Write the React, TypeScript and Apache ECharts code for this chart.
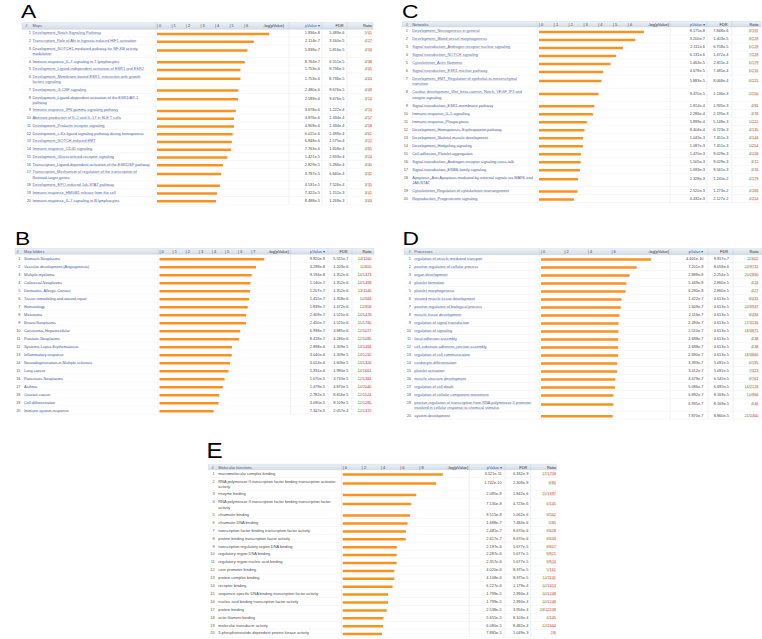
import React, { useEffect, useRef } from 'react';
import * as echarts from 'echarts';

// ---------------- Panel A: Maps ----------------
const mapsLabels = [
  'Development_Notch Signaling Pathway',
  'Transcription_Role of Akt in hypoxia induced HIF1 activation',
  'Development_NOTCH1-mediated pathway for NF-KB activity\nmodulation',
  'Immune response_IL-7 signaling in T lymphocytes',
  'Development_Ligand-independent activation of ESR1 and ESR2',
  'Development_Membrane-bound ESR1: interaction with growth\nfactors signaling',
  'Development_G-CSF signaling',
  'Development_Ligand-dependent activation of the ESR1/AP-1\npathway',
  'Immune response_IFN gamma signaling pathway',
  'Aberrant production of IL-2 and IL-17 in SLE T cells',
  'Development_Prolactin receptor signaling',
  'Development_c-Kit ligand signaling pathway during hemopoiesis',
  'Development_NOTCH-induced EMT',
  'Immune response_CD40 signaling',
  'Development_Glucocorticoid receptor signaling',
  'Transcription_Ligand-dependent activation of the ESR1/SP pathway',
  'Transcription_Mechanism of regulation of the transcription of\nRetinoid-target genes',
  'Development_EPO-induced Jak-STAT pathway',
  'Immune response_HMGB1 release from the cell',
  'Immune response_IL-7 signaling in B lymphocytes',
];
const mapsLogP = [7.736, 6.675, 6.234, 6.057, 5.756, 5.756, 5.606, 5.587, 5.434, 5.312, 5.309, 5.221, 5.164, 5.11, 4.847, 4.548, 4.422, 4.344, 4.135, 4.071];
const mapsPValue = ['1.836e-8', '2.114e-7', '5.838e-7', '8.764e-7', '1.753e-6', '1.753e-6', '2.480e-6', '2.589e-6', '3.678e-6', '4.876e-6', '4.909e-6', '6.015e-6', '6.848e-6', '7.763e-6', '1.421e-5', '2.829e-5', '3.787e-5', '4.531e-5', '7.322e-5', '8.488e-5'];
const mapsFDR = ['5.489e-6', '3.160e-5', '5.816e-5', '6.551e-5', '8.736e-5', '8.736e-5', '9.676e-5', '9.676e-5', '1.222e-4', '1.334e-4', '1.334e-4', '1.499e-4', '1.575e-4', '1.658e-4', '2.833e-4', '5.286e-4', '6.660e-4', '7.526e-4', '1.152e-3', '1.269e-3'];
const mapsRatio = ['5/41', '4/27', '4/34', '4/38', '4/45', '4/45', '4/49', '3/14', '4/54', '4/57', '4/58', '4/61', '3/22', '4/65', '3/24', '3/30', '3/32', '3/35', '3/41', '3/43'];

// ---------------- Panel B: Map folders ----------------
const folderLabels = [
  'Stomach Neoplasms', 'Vascular development (Angiogenesis)', 'Multiple myeloma', 'Colorectal Neoplasms',
  'Dermatitis, Allergic Contact', 'Tissue remodeling and wound repair', 'Hematology', 'Melanoma',
  'Breast Neoplasms', 'Carcinoma, Hepatocellular', 'Prostatic Neoplasms', 'Systemic Lupus Erythematosus',
  'Inflammatory response', 'Neurodegeneration in Multiple sclerosis', 'Lung cancer', 'Pancreatic Neoplasms',
  'Asthma', 'Ovarian cancer', 'Cell differentiation', 'Immune system response',
];
const folderLogP = [8.003, 7.367, 7.036, 6.943, 6.918, 6.837, 6.735, 6.618, 6.611, 6.159, 6.075, 5.538, 5.517, 5.396, 5.273, 4.971, 4.83, 4.556, 4.51, 4.134];
const folderPValue = ['9.920e-9', '4.298e-8', '9.194e-8', '1.140e-7', '1.207e-7', '1.455e-7', '1.839e-7', '2.409e-7', '2.450e-7', '6.938e-7', '8.418e-7', '2.898e-6', '3.040e-6', '4.014e-6', '5.331e-6', '1.070e-5', '1.479e-5', '2.782e-5', '3.090e-5', '7.347e-5'];
const folderFDR = ['5.555e-7', '1.203e-6', '1.352e-6', '1.352e-6', '1.352e-6', '1.358e-6', '1.472e-6', '1.525e-6', '1.525e-6', '3.885e-6', '4.286e-6', '1.309e-5', '1.309e-5', '1.606e-5', '1.990e-5', '3.743e-5', '4.870e-5', '8.656e-5', '9.109e-5', '2.057e-4'];
const folderRatio = ['14/1160', '11/655', '14/1373', '14/1399', '13/1146', '10/583', '12/958', '14/1478', '15/1780', '12/1077', '12/1095', '13/1494', '13/1232', '13/1326', '14/1661', '12/1384', '14/2040', '12/1524', '12/1285', '12/1372'];

// ---------------- Panel C: Networks ----------------
const networkLabels = [
  'Development_Neurogenesis in general',
  'Development_Blood vessel morphogenesis',
  'Signal transduction_Androgen receptor nuclear signaling',
  'Signal transduction_NOTCH signaling',
  'Cytoskeleton_Actin filaments',
  'Signal transduction_ESR1-nuclear pathway',
  'Development_EMT_Regulation of epithelial-to-mesenchymal\ntransition',
  'Cardiac development_Wnt_beta-catenin, Notch, VEGF, IP3 and\nintegrin signaling',
  'Signal transduction_ESR1-membrane pathway',
  'Immune response_IL-5 signalling',
  'Immune response_Phagocytosis',
  'Development_Hemopoiesis, Erythropoietin pathway',
  'Development_Skeletal muscle development',
  'Development_Hedgehog signaling',
  'Cell adhesion_Platelet aggregation',
  'Signal transduction_Androgen receptor signaling cross-talk',
  'Signal transduction_ERBB-family signaling',
  'Apoptosis_Anti-Apoptosis mediated by external signals via MAPK and\nJAK/STAT',
  'Cytoskeleton_Regulation of cytoskeleton rearrangement',
  'Reproduction_Progesterone signaling',
];
const networkLogP = [7.088, 6.495, 5.676, 5.212, 4.834, 4.33, 4.23, 4.024, 3.741, 3.641, 3.229, 3.076, 2.982, 2.964, 2.833, 2.822, 2.771, 2.633, 2.599, 2.353];
const networkPValue = ['8.175e-8', '3.200e-7', '2.111e-6', '6.131e-6', '1.464e-5', '4.678e-5', '5.883e-5', '9.470e-5', '1.814e-4', '2.286e-4', '5.899e-4', '8.404e-4', '1.043e-3', '1.087e-3', '1.470e-3', '1.505e-3', '1.693e-3', '2.328e-3', '2.520e-3', '4.432e-3'];
const networkFDR = ['7.848e-6', '1.403e-5', '6.758e-5', '1.472e-4', '2.811e-4', '7.485e-4', '8.068e-4', '1.136e-3', '1.935e-3', '2.195e-3', '5.148e-3', '6.723e-3', '7.451e-3', '7.451e-3', '9.029e-3', '9.029e-3', '9.561e-3', '1.240e-2', '1.273e-2', '2.127e-2'];
const networkRatio = ['8/192', '8/228', '6/128', '7/228', '6/179', '6/216', '6/225', '5/150', '4/91', '3/78', '5/222', '4/135', '4/144', '5/254', '4/158', '3/72', '3/76', '4/179', '4/183', '4/214'];

// ---------------- Panel D: Processes ----------------
const processLabels = [
  'regulation of vesicle-mediated transport',
  'positive regulation of cellular process',
  'organ development',
  'platelet formation',
  'platelet morphogenesis',
  'striated muscle tissue development',
  'positive regulation of biological process',
  'muscle tissue development',
  'regulation of signal transduction',
  'regulation of signaling',
  'focal adhesion assembly',
  'cell-substrate adherens junction assembly',
  'regulation of cell communication',
  'cardiocyte differentiation',
  'platelet activation',
  'muscle structure development',
  'regulation of cell death',
  'regulation of cellular component movement',
  'positive regulation of transcription from RNA polymerase II promoter\ninvolved in cellular response to chemical stimulus',
  'system development',
];
const processLogP = [9.356, 8.143, 7.539, 7.264, 7.201, 6.847, 6.793, 6.674, 6.603, 6.6, 6.571, 6.571, 6.57, 6.469, 6.467, 6.33, 6.294, 6.162, 6.159, 6.104];
const processPValue = ['4.401e-10', '7.201e-9', '2.888e-8', '5.449e-8', '6.290e-8', '1.422e-7', '1.609e-7', '2.116e-7', '2.494e-7', '2.510e-7', '2.688e-7', '2.688e-7', '2.690e-7', '3.393e-7', '3.412e-7', '4.679e-7', '5.086e-7', '6.892e-7', '6.935e-7', '7.870e-7'];
const processFDR = ['9.917e-7', '8.058e-6', '2.254e-5', '2.860e-5', '2.860e-5', '4.613e-5', '4.613e-5', '4.613e-5', '4.613e-5', '4.613e-5', '4.613e-5', '4.613e-5', '4.613e-5', '5.091e-5', '5.091e-5', '6.545e-5', '6.695e-5', '8.169e-5', '8.169e-5', '8.860e-5'];
const processRatio = ['11/602', '24/9731', '20/2890', '4/26', '4/27', '8/431', '24/9937', '8/494', '17/3136', '18/3871', '4/38', '4/38', '18/3866', '6/195', '7/323', '9/761', '14/2128', '10/966', '4/46', '21/5360'];

// ---------------- Panel E: Molecular functions ----------------
const functionLabels = [
  'macromolecular complex binding',
  'RNA polymerase II transcription factor binding transcription activator\nactivity',
  'enzyme binding',
  'RNA polymerase II transcription factor binding transcription factor\nactivity',
  'chromatin binding',
  'chromatin DNA binding',
  'transcription factor binding transcription factor activity',
  'protein binding transcription factor activity',
  'transcription regulatory region DNA binding',
  'regulatory region DNA binding',
  'regulatory region nucleic acid binding',
  'core promoter binding',
  'protein complex binding',
  'receptor binding',
  'sequence-specific DNA binding transcription factor activity',
  'nucleic acid binding transcription factor activity',
  'protein binding',
  'actin filament binding',
  'molecular transducer activity',
  '3-phosphoinositide-dependent protein kinase activity',
];
const functionLogP = [10.453, 9.759, 7.681, 7.147, 7.022, 6.773, 6.605, 6.582, 5.658, 5.641, 5.628, 5.396, 5.386, 5.206, 4.745, 4.745, 4.596, 4.248, 4.216, 4.103];
const functionPValue = ['3.521e-11', '1.742e-10', '2.085e-8', '7.130e-8', '9.515e-8', '1.688e-7', '2.481e-7', '2.617e-7', '2.197e-6', '2.287e-6', '2.357e-6', '4.020e-6', '4.108e-6', '6.227e-6', '1.799e-5', '1.799e-5', '2.538e-5', '5.655e-5', '6.080e-5', '7.885e-5'];
const functionFDR = ['6.332e-9', '2.308e-8', '1.842e-6', '4.723e-6', '5.062e-6', '7.484e-6', '8.670e-6', '8.670e-6', '5.677e-5', '5.677e-5', '5.677e-5', '8.375e-5', '8.375e-5', '1.179e-4', '2.994e-4', '2.994e-4', '3.956e-4', '8.103e-4', '8.482e-4', '1.049e-3'];
const functionRatio = ['17/1759', '6/84', '15/1897', '6/145', '9/562', '5/85', '9/628', '9/633', '9/817', '9/821', '9/824', '5/161', '10/1141', '10/1653', '10/1248', '10/1248', '28/12239', '4/145', '12/2664', '2/8'];

// ---------------- styling / layout ----------------
const FAMILY = '"Liberation Sans", Arial, sans-serif';
const FS = 3.9;
const FONT = `${FS}px ${FAMILY}`;
const BAR_COLOR = '#f7931e';
const BAR_H = 2.5;
const LINK = '#5a6ea3';
const PLAIN = '#4a4a4a';
const NUM_COLOR = '#5a5a5a';
const VAL_COLOR = '#4a4a4a';
const GREEN = '#4a9e45';
const RED = '#c8463d';
const ROW_LINE = '#eeeeee';
const COL_LINE = '#e3e3e3';
const LINE_GAP = 5.2;

type Layout = {
  letter: string; letterX: number; letterCY: number; letterSize: number; letterScale: number;
  left: number; right: number; headTop: number; rowsTop: number; rowH: number; extra: number;
  hashX: number; numRight: number; nameX: number;
  barLeft: number; barStart: number; barRight: number; unit: number;
  pvRight: number; sep1: number; fdrRight: number; sep2: number; ratioRight: number;
  logRight: number; tickInterval: number; tickLast: number;
};

type Panel = {
  title: string; link: boolean; labels: string[]; logP: number[]; pv: string[]; fdr: string[]; ratio: string[]; L: Layout;
};

const panels: Panel[] = [
  {
    title: 'Maps', link: true, labels: mapsLabels, logP: mapsLogP, pv: mapsPValue, fdr: mapsFDR, ratio: mapsRatio,
    L: { letter: 'A', letterX: 21, letterCY: 11.5, letterSize: 19, letterScale: 1.2,
      left: 22, right: 373, headTop: 22.6, rowsTop: 29.3, rowH: 7.75, extra: 5.0,
      hashX: 25.3, numRight: 31, nameX: 32.5, barLeft: 156, barStart: 157, barRight: 289, unit: 14.5,
      pvRight: 320, sep1: 322, fdrRight: 344.5, sep2: 347, ratioRight: 372, logRight: 284, tickInterval: 1, tickLast: 6 },
  },
  {
    title: 'Map folders', link: true, labels: folderLabels, logP: folderLogP, pv: folderPValue, fdr: folderFDR, ratio: folderRatio,
    L: { letter: 'B', letterX: 15, letterCY: 238.5, letterSize: 19, letterScale: 1.2,
      left: 15, right: 374, headTop: 248.5, rowsTop: 254.3, rowH: 8.0, extra: 0,
      hashX: 16.5, numRight: 20.5, nameX: 24, barLeft: 158, barStart: 159.5, barRight: 290.7, unit: 13.1,
      pvRight: 325, sep1: 328, fdrRight: 348.5, sep2: 352, ratioRight: 371.5, logRight: 289, tickInterval: 1, tickLast: 7 },
  },
  {
    title: 'Networks', link: true, labels: networkLabels, logP: networkLogP, pv: networkPValue, fdr: networkFDR, ratio: networkRatio,
    L: { letter: 'C', letterX: 402, letterCY: 11, letterSize: 19, letterScale: 1.2,
      left: 402.5, right: 761, headTop: 21.5, rowsTop: 27, rowH: 8.0, extra: 5.2,
      hashX: 405.8, numRight: 408, nameX: 412.3, barLeft: 537.3, barStart: 539, barRight: 670, unit: 14.8,
      pvRight: 705, sep1: 707, fdrRight: 728.5, sep2: 732, ratioRight: 758.5, logRight: 669, tickInterval: 1, tickLast: 6 },
  },
  {
    title: 'Processes', link: true, labels: processLabels, logP: processLogP, pv: processPValue, fdr: processFDR, ratio: processRatio,
    L: { letter: 'D', letterX: 402.5, letterCY: 238.5, letterSize: 19, letterScale: 1.2,
      left: 404, right: 762, headTop: 248.7, rowsTop: 254.7, rowH: 8.0, extra: 4.6,
      hashX: 408.5, numRight: 411, nameX: 414.3, barLeft: 539.3, barStart: 541, barRight: 670, unit: 11.75,
      pvRight: 703.5, sep1: 708, fdrRight: 729, sep2: 733, ratioRight: 758.5, logRight: 669, tickInterval: 2, tickLast: 6 },
  },
  {
    title: 'Molecular functions', link: false, labels: functionLabels, logP: functionLogP, pv: functionPValue, fdr: functionFDR, ratio: functionRatio,
    L: { letter: 'E', letterX: 206.5, letterCY: 450, letterSize: 22, letterScale: 1.1,
      left: 208.3, right: 556.7, headTop: 464.3, rowsTop: 469.75, rowH: 7.9, extra: 4.7,
      hashX: 211.5, numRight: 214.7, nameX: 218.3, barLeft: 341.7, barStart: 342.7, barRight: 469.3, unit: 9.58,
      pvRight: 501.7, sep1: 505, fdrRight: 528.3, sep2: 530.7, ratioRight: 556, logRight: 468.3, tickInterval: 2, tickLast: 8 },
  },
];

let measureCtx: CanvasRenderingContext2D | null = null;
function textW(s: string): number {
  if (!measureCtx) measureCtx = document.createElement('canvas').getContext('2d');
  if (!measureCtx) return s.length * FS * 0.5;
  measureCtx.font = FONT;
  return measureCtx.measureText(s).width;
}

function txt(text: string, x: number, y: number, align: string, fill: string, font = FONT, z?: number): any {
  const el: any = {
    type: 'text', x, y,
    style: { text, fill, font, align, verticalAlign: 'middle', textAlign: align, textVerticalAlign: 'middle' },
  };
  if (z !== undefined) el.z = z;
  return el;
}

function uline(x: number, y: number, w: number, color: string): any {
  return { type: 'line', shape: { x1: x, y1: y, x2: x + w, y2: y }, style: { stroke: color, lineWidth: 0.3, opacity: 0.6 } };
}

function rowGeometry(labels: string[], L: Layout) {
  let acc = 0;
  const rows = labels.map((lab) => {
    const n = lab.split('\n').length;
    const h = L.rowH + (n - 1) * L.extra;
    const g = { top: acc, h, n };
    acc += h;
    return g;
  });
  return { rows, total: acc };
}

function buildOption() {
  const grid: any[] = [];
  const xAxis: any[] = [];
  const yAxis: any[] = [];
  const series: any[] = [];
  const graphic: any[] = [];

  panels.forEach((P, pi) => {
    const L = P.L;
    const geo = rowGeometry(P.labels, L);
    const bottom = L.rowsTop + geo.total;

    grid.push({ left: L.barStart, top: L.rowsTop, width: L.barRight - L.barStart, height: geo.total, containLabel: false, outerBoundsMode: 'none' });
    xAxis.push({
      gridIndex: pi, type: 'value', position: 'top', min: 0, max: (L.barRight - L.barStart) / L.unit,
      interval: L.tickInterval, z: 6,
      axisLine: { show: false }, axisTick: { show: false }, splitLine: { show: false },
      axisLabel: {
        show: true, margin: (L.rowsTop - L.headTop) / 2, fontSize: FS, fontFamily: FAMILY, color: '#444',
        align: 'left', verticalAlign: 'middle',
        formatter: (v: number) => (v <= L.tickLast + 1e-9 ? '| ' + v : ''),
      },
    });
    yAxis.push({ gridIndex: pi, type: 'value', min: 0, max: geo.total, inverse: true, show: false });

    const renderItem = (params: any, api: any) => {
      const i = api.value(2);
      const v = api.value(0);
      const top = api.value(1);
      const h = api.value(3);
      const p0 = api.coord([0, top]);
      const p1 = api.coord([v, top]);
      const yBottom = api.coord([0, top + h])[1];
      const line1 = api.coord([0, top + L.rowH / 2])[1] - 0.3;
      const lines = P.labels[i].split('\n');
      const multi = lines.length > 1;
      const barY = line1 + (multi ? 2.2 : 1.2);
      const numY = line1 + (multi ? 1.5 : 0);
      const children: any[] = [];
      children.push({ type: 'line', shape: { x1: L.left, y1: yBottom, x2: L.right, y2: yBottom }, style: { stroke: ROW_LINE, lineWidth: 0.5 } });
      children.push(txt(String(i + 1), L.numRight, line1, 'right', NUM_COLOR));
      lines.forEach((ln, k) => {
        const y = line1 + k * LINE_GAP;
        children.push(txt(ln, L.nameX, y, 'left', P.link ? LINK : PLAIN));
        if (P.link) children.push(uline(L.nameX, y + 1.75, textW(ln), LINK));
      });
      children.push({ type: 'rect', shape: { x: p0[0], y: barY - BAR_H / 2, width: p1[0] - p0[0], height: BAR_H }, style: { fill: BAR_COLOR } });
      children.push(txt(P.pv[i], L.pvRight, numY, 'right', VAL_COLOR));
      children.push(txt(P.fdr[i], L.fdrRight, numY, 'right', VAL_COLOR));
      const parts = P.ratio[i].split('/');
      const num = parts[0];
      const den = '/' + parts[1];
      const wDen = textW(den);
      const wNum = textW(num);
      const xDen = L.ratioRight - wDen;
      const xNum = xDen - wNum;
      children.push(txt(num, xNum, numY, 'left', GREEN));
      children.push(uline(xNum, numY + 1.75, wNum, GREEN));
      children.push(txt(den, xDen, numY, 'left', RED));
      children.push(uline(xDen + textW('/'), numY + 1.75, wDen - textW('/'), RED));
      return { type: 'group', children };
    };

    series.push({
      type: 'custom', coordinateSystem: 'cartesian2d', xAxisIndex: pi, yAxisIndex: pi, silent: true, clip: false,
      encode: { x: 0, y: 1 },
      data: P.labels.map((_, i) => [P.logP[i], geo.rows[i].top, i, geo.rows[i].h]),
      renderItem,
    });

    // panel letter
    graphic.push({
      type: 'text', x: L.letterX, y: L.letterCY, scaleX: L.letterScale, silent: true,
      style: { text: L.letter, fill: '#000', font: `${L.letterSize}px ${FAMILY}`, align: 'left', verticalAlign: 'middle', textAlign: 'left', textVerticalAlign: 'middle' },
    });
    // header band
    graphic.push({
      type: 'rect', z: -5, silent: true,
      shape: { x: L.left, y: L.headTop, width: L.right - L.left, height: L.rowsTop - L.headTop },
      style: {
        fill: new echarts.graphic.LinearGradient(0, 0, 0, 1, [
          { offset: 0, color: '#eef2f7' },
          { offset: 1, color: '#d2dbe6' },
        ]),
        stroke: '#c6d0dc', lineWidth: 0.4,
      },
    });
    const hy = (L.headTop + L.rowsTop) / 2;
    graphic.push(txt('#', L.hashX, hy, 'left', '#333', FONT, 6));
    graphic.push(txt(P.title, L.nameX, hy, 'left', '#4d5d80', FONT, 6));
    graphic.push(txt('-log(pValue)', L.logRight, hy, 'right', '#333', FONT, 6));
    graphic.push(txt('pValue \u25BE', L.pvRight, hy, 'right', '#2f5fb0', FONT, 6));
    graphic.push(txt('FDR', L.fdrRight - 1, hy, 'right', '#333', FONT, 6));
    graphic.push(txt('Ratio', L.ratioRight, hy, 'right', '#333', FONT, 6));
    // column separators
    [L.barLeft, L.barRight, L.sep1, L.sep2].forEach((x) => {
      graphic.push({ type: 'line', z: -4, silent: true, shape: { x1: x, y1: L.headTop, x2: x, y2: L.rowsTop }, style: { stroke: '#bcc7d4', lineWidth: 0.4 } });
      graphic.push({ type: 'line', z: -4, silent: true, shape: { x1: x, y1: L.rowsTop, x2: x, y2: bottom }, style: { stroke: COL_LINE, lineWidth: 0.5 } });
    });
  });

  return {
    animation: false,
    backgroundColor: '#ffffff',
    grid, xAxis, yAxis, series, graphic,
  };
}

export default function App() {
  const ref = useRef<HTMLDivElement | null>(null);
  useEffect(() => {
    if (!ref.current) return;
    const chart = echarts.init(ref.current, null, { renderer: 'svg' });
    chart.setOption(buildOption() as any);
    return () => chart.dispose();
  }, []);
  return (
    <div
      ref={ref}
      style={{ position: 'absolute', left: 0, top: 0, width: 762, height: 639, background: '#fff' }}
    />
  );
}
